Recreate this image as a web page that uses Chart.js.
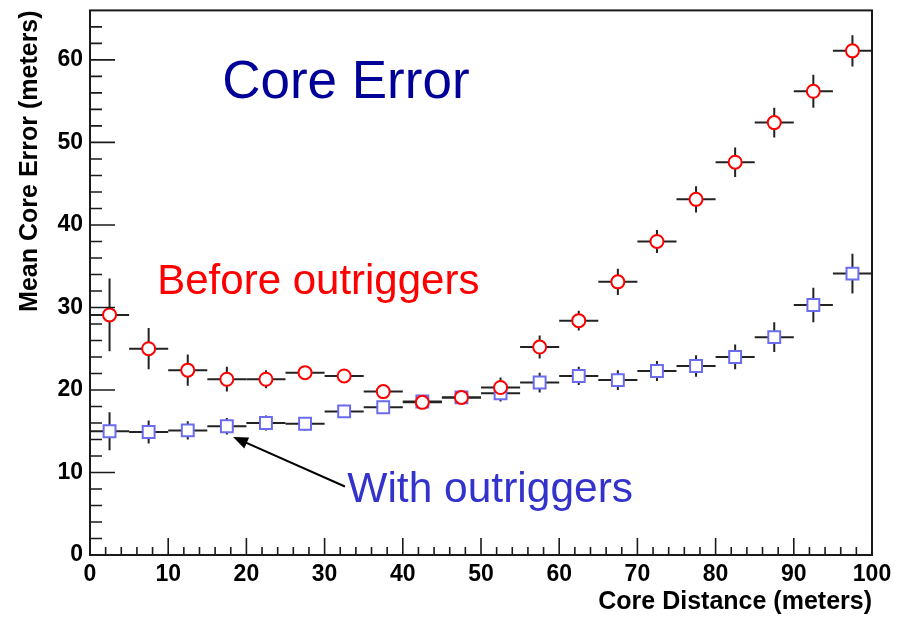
<!DOCTYPE html>
<html>
<head>
<meta charset="utf-8">
<script src="https://cdn.jsdelivr.net/npm/chart.js@4/dist/chart.umd.min.js"></script>
<style>
  html, body { margin: 0; padding: 0; background: #fff; }
  #wrap { width: 907px; height: 617px; }
</style>
</head>
<body>
<div id="wrap"><canvas id="chart" width="907" height="617"></canvas></div>
<script>
// Mean core error vs core distance, 5 m bins

const binCenters = [2.5, 7.5, 12.5, 17.5, 22.5, 27.5, 32.5, 37.5, 42.5, 47.5,
  52.5, 57.5, 62.5, 67.5, 72.5, 77.5, 82.5, 87.5, 92.5, 97.5];
const binHalfWidth = 2.5;

const beforeValues = [29.1, 25.0, 22.4, 21.3, 21.3, 22.1, 21.7, 19.8, 18.5, 19.1,
  20.3, 25.2, 28.4, 33.1, 38.0, 43.1, 47.6, 52.4, 56.2, 61.1];
const beforeErrors = [4.4, 2.5, 1.9, 1.5, 1.1, 0.8, 0.7, 0.7, 0.8, 0.7,
  1.2, 1.4, 1.2, 1.6, 1.4, 1.6, 1.8, 1.8, 2.0, 1.9];

const withValues = [15.0, 14.9, 15.1, 15.6, 16.0, 15.9, 17.4, 17.9, 18.6, 19.1,
  19.6, 20.9, 21.7, 21.2, 22.3, 22.9, 24.0, 26.4, 30.3, 34.1];
const withErrors = [2.3, 1.4, 1.1, 1.0, 0.9, 0.8, 0.8, 0.8, 0.8, 0.7,
  1.0, 1.2, 1.1, 1.2, 1.2, 1.3, 1.5, 1.8, 2.1, 2.4];

const xTickLabels = ['0', '10', '20', '30', '40', '50', '60', '70', '80', '90', '100'];
const yTickLabels = ['0', '10', '20', '30', '40', '50', '60'];

// text labels drawn on the plot (data coordinates of left baseline)
const notes = [
  { text: 'Core Error', x: 16.9, y: 55.4, size: 53, color: '#000099' },
  { text: 'Before outriggers', x: 8.6, y: 31.6, size: 42, color: '#ff0000' },
  { text: 'With outriggers', x: 32.9, y: 6.4, size: 42.5, color: '#3333cc' },
];
const arrowFrom = { x: 32.6, y: 8.3 };
const arrowTo = { x: 18.3, y: 14.3 };

const toPoints = (vals, errs) => vals.map((v, i) => ({ x: binCenters[i], y: v, err: errs[i] }));

const FONT = "'Liberation Sans', Arial, sans-serif";
const INK = '#1a1a1a';

// error bars go under the markers
const errorBars = {
  id: 'errorBars',
  beforeDatasetsDraw(chart) {
    const { ctx, scales: { x, y } } = chart;
    ctx.save();
    ctx.strokeStyle = '#222';
    ctx.lineWidth = 2;
    chart.data.datasets.forEach((ds) => {
      ds.data.forEach((p) => {
        const cx = x.getPixelForValue(p.x);
        const cy = y.getPixelForValue(p.y);
        ctx.beginPath();
        ctx.moveTo(x.getPixelForValue(p.x - binHalfWidth), cy);
        ctx.lineTo(x.getPixelForValue(p.x + binHalfWidth), cy);
        ctx.moveTo(cx, y.getPixelForValue(p.y - p.err));
        ctx.lineTo(cx, y.getPixelForValue(p.y + p.err));
        ctx.stroke();
      });
    });
    ctx.restore();
  },
};

// ROOT-style frame with inward ticks, plus the annotations
const frameAndNotes = {
  id: 'frameAndNotes',
  afterDraw(chart) {
    const { ctx, chartArea: a, scales: { x, y } } = chart;
    ctx.save();
    ctx.strokeStyle = INK;
    ctx.lineWidth = 2;
    ctx.strokeRect(a.left, a.top, a.right - a.left, a.bottom - a.top);

    ctx.lineWidth = 1.6;
    ctx.beginPath();
    for (let v = 0; v <= 100; v += 2) {
      const px = x.getPixelForValue(v);
      const len = v % 10 === 0 ? 17 : 8;
      ctx.moveTo(px, a.bottom);
      ctx.lineTo(px, a.bottom - len);
    }
    for (let v = 0; v <= 64; v += 2) {
      const py = y.getPixelForValue(v);
      const len = v % 10 === 0 ? 25 : 12;
      ctx.moveTo(a.left, py);
      ctx.lineTo(a.left + len, py);
    }
    ctx.stroke();

    notes.forEach((n) => {
      ctx.font = n.size + 'px ' + FONT;
      ctx.fillStyle = n.color;
      ctx.textBaseline = 'alphabetic';
      ctx.fillText(n.text, x.getPixelForValue(n.x), y.getPixelForValue(n.y));
    });

    // arrow
    const x0 = x.getPixelForValue(arrowFrom.x), y0 = y.getPixelForValue(arrowFrom.y);
    const x1 = x.getPixelForValue(arrowTo.x), y1 = y.getPixelForValue(arrowTo.y);
    const ang = Math.atan2(y1 - y0, x1 - x0);
    const head = 16;
    ctx.strokeStyle = '#000';
    ctx.fillStyle = '#000';
    ctx.lineWidth = 2;
    ctx.beginPath();
    ctx.moveTo(x0, y0);
    ctx.lineTo(x1 - Math.cos(ang) * head * 0.8, y1 - Math.sin(ang) * head * 0.8);
    ctx.stroke();
    ctx.beginPath();
    ctx.moveTo(x1, y1);
    ctx.lineTo(x1 - head * Math.cos(ang - 0.38), y1 - head * Math.sin(ang - 0.38));
    ctx.lineTo(x1 - head * Math.cos(ang + 0.38), y1 - head * Math.sin(ang + 0.38));
    ctx.closePath();
    ctx.fill();
    ctx.restore();
  },
};

const ctx = document.getElementById('chart').getContext('2d');
new Chart(ctx, {
  type: 'scatter',
  data: {
    datasets: [
      {
        label: 'Before outriggers',
        data: toPoints(beforeValues, beforeErrors),
        pointStyle: 'circle',
        pointRadius: 6.5,
        pointBorderWidth: 2,
        pointBorderColor: '#ff0000',
        pointBackgroundColor: '#ffffff',
      },
      {
        label: 'With outriggers',
        data: toPoints(withValues, withErrors),
        pointStyle: 'rect',
        pointRadius: 8.4,
        pointBorderWidth: 2,
        pointBorderColor: '#6b6bee',
        pointBackgroundColor: '#ffffff',
      },
    ],
  },
  options: {
    responsive: false,
    animation: false,
    layout: { padding: { top: 7, right: 35, left: 0, bottom: 0 } },
    plugins: {
      legend: { display: false },
      tooltip: { enabled: false },
    },
    scales: {
      x: {
        type: 'linear',
        min: 0,
        max: 100,
        afterFit(scale) {
          scale.height = 62;
          scale.paddingLeft = 0;
          scale.paddingRight = 0;
        },
        grid: { display: false, drawTicks: false },
        border: { display: false },
        ticks: {
          stepSize: 10,
          padding: 6,
          color: '#000',
          font: { family: FONT, size: 23, weight: 'bold' },
          callback: (v) => xTickLabels[v / 10],
        },
        title: {
          display: true,
          text: 'Core Distance (meters)',
          align: 'end',
          color: '#000',
          font: { family: FONT, size: 25, weight: 'bold' },
          padding: { top: 0, bottom: 0 },
        },
      },
      y: {
        type: 'linear',
        min: 0,
        max: 66,
        afterFit(scale) {
          scale.width = 90;
          scale.paddingTop = 0;
          scale.paddingBottom = 0;
        },
        grid: { display: false, drawTicks: false },
        border: { display: false },
        ticks: {
          stepSize: 10,
          includeBounds: false,
          padding: 7,
          color: '#000',
          font: { family: FONT, size: 23, weight: 'bold' },
          callback: (v) => yTickLabels[v / 10],
        },
        title: {
          display: true,
          text: 'Mean Core Error (meters)',
          align: 'end',
          color: '#000',
          font: { family: FONT, size: 25, weight: 'bold' },
          padding: { top: 15, bottom: 0 },
        },
      },
    },
  },
  plugins: [errorBars, frameAndNotes],
});
</script>
</body>
</html>
